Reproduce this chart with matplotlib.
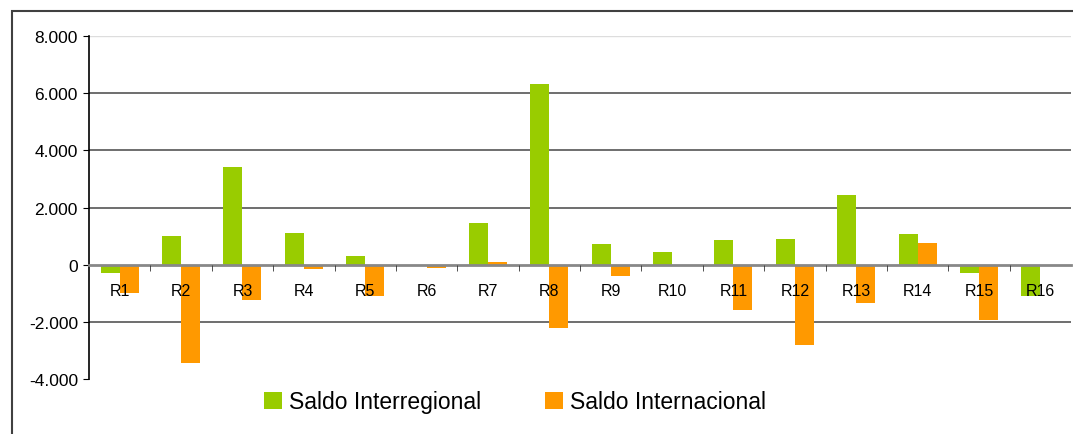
import numpy as np
import matplotlib.pyplot as plt
from matplotlib.patches import Rectangle
from matplotlib.ticker import FuncFormatter

plt.rcParams['font.family'] = ['Liberation Sans', 'DejaVu Sans']

# datos
regioes = ['R1', 'R2', 'R3', 'R4', 'R5', 'R6', 'R7', 'R8',
           'R9', 'R10', 'R11', 'R12', 'R13', 'R14', 'R15', 'R16']
saldo_inter = [-300, 1000, 3400, 1120, 320, -60, 1470, 6330,
               740, 460, 880, 910, 2450, 1080, -300, -1080]
saldo_internac = [-1000, -3450, -1250, -150, -1080, -130, 100, -2230,
                  -400, -20, -1600, -2820, -1350, 750, -1920, 0]

verde = '#99CC00'
laranja = '#FF9900'

fig = plt.figure(figsize=(10.73, 4.35), dpi=100)

# moldura externa (cortada na imagem original)
fig.patches.append(Rectangle((12 / 1073, -0.1), 1.2, 1.1 - 12 / 435,
                             transform=fig.transFigure, fill=False,
                             edgecolor='#404040', linewidth=1.5))

ax = fig.add_axes([89 / 1073, 1 - 380 / 435, (1071 - 89) / 1073, (380 - 37) / 435])

x = np.arange(len(regioes))
w = 0.31
ax.bar(x - w / 2, saldo_inter, w, color=verde, label='Saldo Interregional', zorder=2)
ax.bar(x + w / 2, saldo_internac, w, color=laranja, label='Saldo Internacional', zorder=2)

ax.set_xlim(-0.5, len(regioes) - 0.5)
ax.set_ylim(-4000, 8000)
ax.set_yticks(np.arange(-4000, 8001, 2000))
ax.yaxis.set_major_formatter(FuncFormatter(lambda v, p: f'{int(v):,}'.replace(',', '.')))

# grade
for v in [-2000, 2000, 4000, 6000]:
    ax.axhline(v, color='#555555', linewidth=1.2, zorder=1)
ax.axhline(8000, color='#dddddd', linewidth=1.0, zorder=1)

# eixo x no zero
ax.spines['bottom'].set_position(('data', 0))
ax.spines['bottom'].set_color('#888888')
ax.spines['bottom'].set_linewidth(2)
ax.spines['bottom'].set_zorder(3)
ax.spines['top'].set_visible(False)
ax.spines['right'].set_visible(False)
ax.spines['left'].set_linewidth(1.2)

ax.set_xticks(x)
ax.set_xticklabels(regioes, fontsize=11.5)
ax.tick_params(axis='x', which='major', length=0, pad=13)
ax.set_xticks(np.arange(0.5, len(regioes) - 1, 1), minor=True)
ax.tick_params(axis='x', which='minor', length=4, direction='out', color='#333333')
ax.tick_params(axis='y', labelsize=12.5, length=4, direction='out', pad=4)
ax.xaxis.set_zorder(5)

fig.legend(loc='center', bbox_to_anchor=(515 / 1073, 1 - 403 / 435), ncol=2,
           frameon=False, fontsize=16.5, handlelength=0.8, handleheight=0.8,
           handletextpad=0.3, columnspacing=2.8)

fig.savefig('out.png', dpi=100)
